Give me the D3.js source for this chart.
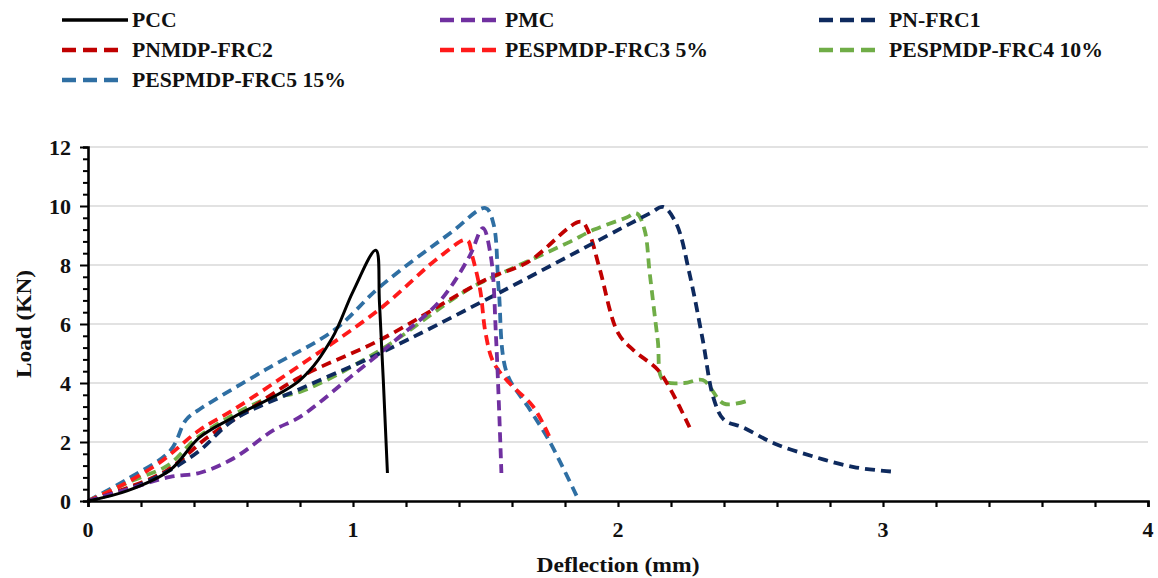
<!DOCTYPE html>
<html><head><meta charset="utf-8">
<script src="https://cdn.jsdelivr.net/npm/d3@7"></script>
<style>body{margin:0;background:#fff}svg{display:block}text{font-family:"Liberation Serif","Times New Roman",serif;font-weight:bold;fill:#111}</style>
</head><body><svg id="c" width="1158" height="578"></svg>
<script>
const seriesNames = ["PCC","PMC","PN-FRC1","PNMDP-FRC2","PESPMDP-FRC3 5%","PESPMDP-FRC4 10%","PESPMDP-FRC5 15%"];
const seriesColors = ["#000000","#7030A0","#0E2A5E","#C00000","#FF1A1A","#70AD47","#2F6FA3"];
const xTicks = [0,1,2,3,4];
const yTicks = [0,2,4,6,8,10,12];
const pcc = [[0,0],[0.15,0.35],[0.31,1.05],[0.42,2.15],[0.55,2.85],[0.8,4.1],[0.92,5.5],[1.0,7.1],[1.086,8.5],[1.10,6.7],[1.13,0.95]];
const pmc = [[0,0],[0.15,0.4],[0.31,0.82],[0.42,0.95],[0.55,1.45],[0.70,2.4],[0.8,2.85],[0.99,4.2],[1.18,5.6],[1.33,6.8],[1.44,8.3],[1.49,9.25],[1.52,8.3],[1.54,5.5],[1.56,0.95]];
const frc1 = [[0,0],[0.15,0.4],[0.30,1.0],[0.42,1.7],[0.55,2.75],[0.8,3.8],[1.10,5.0],[1.55,7.05],[2.12,9.75],[2.17,9.97],[2.22,9.4],[2.27,7.7],[2.32,5.45],[2.36,3.5],[2.40,2.75],[2.47,2.5],[2.59,1.95],[2.74,1.5],[2.89,1.15],[3.03,1.0]];
const frc2 = [[0,0],[0.15,0.45],[0.30,1.05],[0.45,2.15],[0.6,3.05],[0.8,4.2],[1.10,5.45],[1.50,7.5],[1.66,8.1],[1.86,9.47],[1.89,9.1],[1.93,7.9],[2.0,5.7],[2.06,5.1],[2.15,4.45],[2.20,3.75],[2.27,2.5]];
const frc3 = [[0,0],[0.12,0.5],[0.27,1.3],[0.42,2.4],[0.55,3.1],[0.8,4.6],[1.10,6.5],[1.33,8.3],[1.43,8.85],[1.45,8.3],[1.48,7.15],[1.50,5.7],[1.53,4.7],[1.59,4.0],[1.68,3.2],[1.74,2.2]];
const frc4 = [[0,0],[0.17,0.7],[0.30,1.2],[0.42,2.2],[0.67,3.45],[0.8,3.7],[1.10,5.1],[1.43,7.15],[1.58,7.8],[1.81,8.75],[1.91,9.2],[2.03,9.6],[2.07,9.75],[2.10,9.2],[2.12,7.7],[2.15,5.45],[2.17,4.1],[2.25,4.0],[2.32,4.1],[2.40,3.3],[2.49,3.4]];
const frc5 = [[0,0],[0.15,0.75],[0.31,1.7],[0.37,2.75],[0.42,3.1],[0.67,4.45],[0.93,5.8],[1.10,7.25],[1.37,9.1],[1.50,9.93],[1.53,9.4],[1.55,7.15],[1.58,4.35],[1.66,3.2],[1.74,2.05],[1.845,0.15]];
const seriesData = [pcc,pmc,frc1,frc2,frc3,frc4,frc5];

const svg = d3.select("#c");
const x = d3.scaleLinear().domain([0,4]).range([88,1148]);
const y = d3.scaleLinear().domain([0,12]).range([501,147]);

// gridlines
svg.append("g").selectAll("line").data(yTicks.filter(d=>d>0)).join("line")
  .attr("x1",x(0)).attr("x2",x(4)).attr("y1",d=>y(d)).attr("y2",d=>y(d))
  .attr("stroke","#d9d9d9").attr("stroke-width",1.3);

// curves
const line = d3.line().x(d=>x(d[0])).y(d=>y(d[1])).curve(d3.curveCatmullRom.alpha(0.5));
const order = [6,5,4,3,2,1,0];
order.forEach(i=>{
  svg.append("path").datum(seriesData[i]).attr("d",line).attr("fill","none")
    .attr("stroke",seriesColors[i]).attr("stroke-width",i===0?3:3.8)
    .attr("stroke-dasharray",i===0?null:"10,6").attr("stroke-linecap","butt");
});

// axes
const xAxis = d3.axisBottom(x).tickValues(d3.range(0,4.01,0.2)).tickSize(6).tickFormat("");
const gx = svg.append("g").attr("transform",`translate(0,${y(0)})`).call(xAxis);
gx.select(".domain").attr("stroke","#000").attr("stroke-width",2.6);
gx.selectAll(".tick line").attr("stroke","#000").attr("stroke-width",2.2);
svg.append("g").selectAll("text").data(xTicks).join("text")
  .attr("x",d=>x(d)).attr("y",537).attr("text-anchor","middle").attr("font-size",22).text(d=>d);

const yAxis = d3.axisLeft(y).tickValues(d3.range(0,12.01,0.4)).tickSize(5).tickFormat("");
const gy = svg.append("g").attr("transform",`translate(${x(0)},0)`).call(yAxis);
gy.select(".domain").attr("stroke","#000").attr("stroke-width",2.6);
gy.selectAll(".tick line").attr("stroke","#000").attr("stroke-width",2);
gy.selectAll(".tick").filter(d=>Math.abs(d/2-Math.round(d/2))<1e-6).select("line").attr("x2",-8);
svg.append("g").selectAll("text").data(yTicks).join("text")
  .attr("x",71).attr("y",d=>y(d)+8).attr("text-anchor","end").attr("font-size",22).text(d=>d);

svg.append("text").attr("x",618).attr("y",572).attr("text-anchor","middle").attr("font-size",20)
  .attr("textLength",163).attr("lengthAdjust","spacingAndGlyphs").text("Deflection (mm)");
svg.append("text").attr("transform","translate(31,324) rotate(-90)").attr("text-anchor","middle").attr("font-size",20)
  .attr("textLength",108).attr("lengthAdjust","spacingAndGlyphs").text("Load (KN)");

// legend
const legCols = [62,440,819];
const legText = [132,505,889];
const legRows = [20,50,80];
seriesNames.forEach((n,i)=>{
  const c = i%3, cy = legRows[Math.floor(i/3)];
  const cx = legCols[c];
  svg.append("line").attr("x1",cx).attr("x2",i===0?128:cx+(c===0?60:57)).attr("y1",cy).attr("y2",cy)
    .attr("stroke",seriesColors[i]).attr("stroke-width",i===0?3.6:4.4)
    .attr("stroke-dasharray",i===0?null:"14,7");
  svg.append("text").attr("x",legText[c]).attr("y",cy+7).attr("font-size",21.7).text(n);
});
</script></body></html>
